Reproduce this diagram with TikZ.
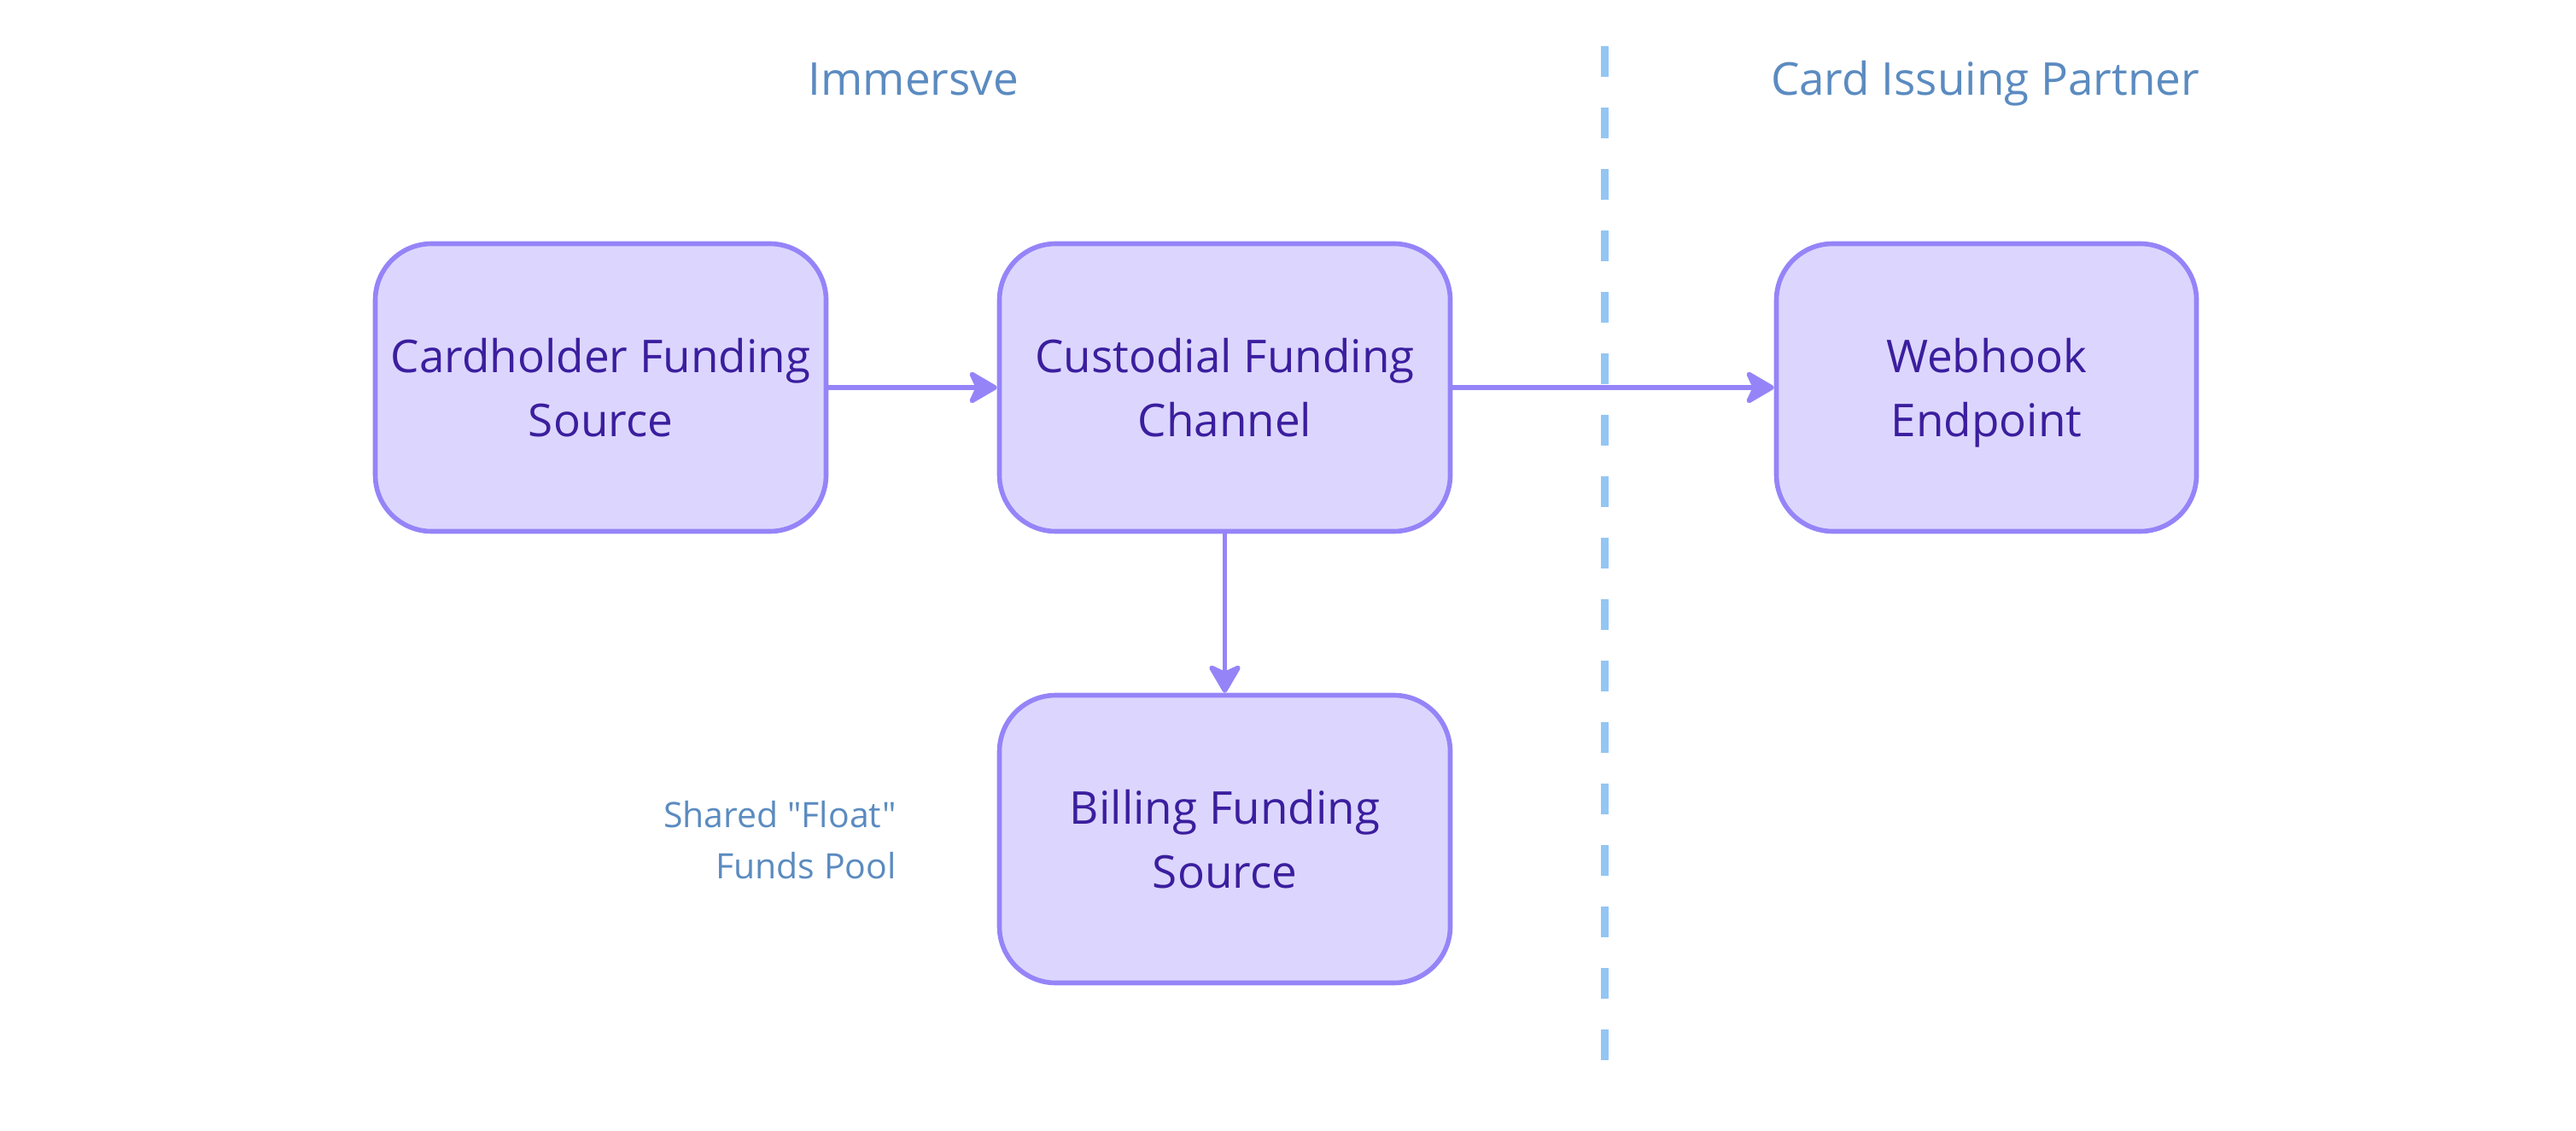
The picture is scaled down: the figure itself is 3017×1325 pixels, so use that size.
\documentclass[tikz,border=0pt]{standalone}
\usepackage{fontspec}
\setmainfont{Open Sans}[Ligatures=TeXOff]
\usetikzlibrary{arrows.meta}
\definecolor{boxfill}{HTML}{DCD6FE}
\definecolor{boxline}{HTML}{9584F8}
\definecolor{boxtext}{HTML}{3B1E9E}
\definecolor{labeltext}{HTML}{5B8BC0}
\definecolor{dashline}{HTML}{93C6F5}
\tikzset{
  flowbox/.style={draw=boxline, fill=boxfill, line width=2.8pt, rounded corners=33pt,
    minimum height=168.5pt, inner sep=0pt, align=center, text=boxtext,
    font=\fontsize{26.5}{37.5}\selectfont},
  sidetitle/.style={text=labeltext, inner sep=0pt, font=\fontsize{26.5}{37.5}\selectfont},
  smalllabel/.style={text=labeltext, inner sep=0pt, align=right, font=\fontsize{20.5}{30}\selectfont},
  flowarrow/.style={draw=boxline, line width=2.8pt,
    -{Stealth[length=19pt, width=22pt, inset=5pt, round]}},
  divider/.style={draw=dashline, line width=4.5pt, dash pattern=on 18pt off 18pt}
}
\begin{document}
\begin{tikzpicture}[x=0.5pt, y=-0.5pt]
\useasboundingbox (0,0) rectangle (3017,1325);
% divider
\coordinate (dtop) at (1879,54);
\coordinate (dbot) at (1879,1242);
\draw[divider] (dtop) -- (dbot);
% titles
\node[sidetitle, anchor=base] (immersve) at (1070,112) {Immersve};
\node[sidetitle, anchor=base] (partner) at (2325,112) {Card Issuing Partner};
% boxes
\node[flowbox, minimum width=264pt] (cardholder) at (703.5,454) {Cardholder Funding\\Source};
\node[flowbox, minimum width=264pt] (custodial) at (1434.5,454) {Custodial Funding\\Channel};
\node[flowbox, minimum width=246pt] (webhook) at (2326.5,454) {Webhook\\\raisebox{0pt}[\height][0pt]{Endpoint}};
\node[flowbox, minimum width=264pt] (billing) at (1434.5,983) {Billing Funding\\Source};
% side label
\node[smalllabel, anchor=east] (pool) at (1050,984.5) {Shared "Float"\\Funds Pool};
% arrows
\draw[flowarrow] (cardholder.east) -- (custodial.west);
\draw[flowarrow] (custodial.east) -- (webhook.west);
\draw[flowarrow] (custodial.south) -- (billing.north);
\end{tikzpicture}
\end{document}
